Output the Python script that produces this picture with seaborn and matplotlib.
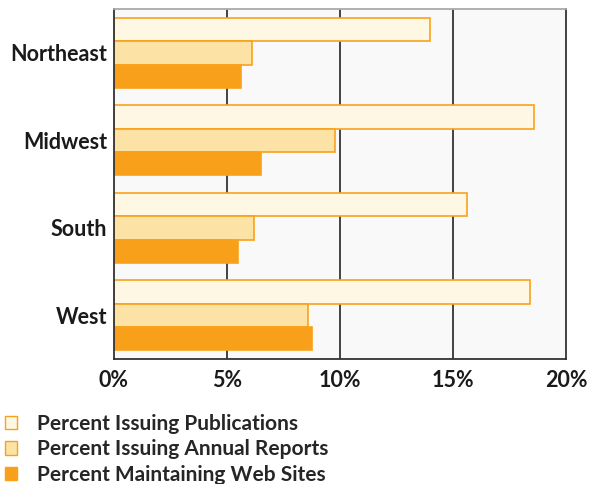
import seaborn as sns
import matplotlib.pyplot as plt
import pandas as pd

regions = ['Northeast', 'Midwest', 'South', 'West']
series = ['Percent Issuing Publications', 'Percent Issuing Annual Reports',
          'Percent Maintaining Web Sites']
publications = [14.0, 18.6, 15.6, 18.4]
annual_reports = [6.1, 9.8, 6.2, 8.6]
web_sites = [5.6, 6.5, 5.5, 8.75]
colors = ['#fef7e3', '#fde2a6', '#f8a01a']

df = pd.DataFrame({
    'region': regions * 3,
    'series': [series[0]] * 4 + [series[1]] * 4 + [series[2]] * 4,
    'value': publications + annual_reports + web_sites,
})

sns.set_style('white')
plt.rcParams['font.family'] = ['Lato', 'DejaVu Sans']

fig = plt.figure(figsize=(5.89, 4.84), dpi=100)
ax = fig.add_axes([0.1935, 0.258, 0.7675, 0.723])
ax.set_facecolor('#f9f9f9')

sns.barplot(data=df, y='region', x='value', hue='series', palette=colors,
            orient='h', width=0.8, edgecolor='#f8a21c', linewidth=1.2,
            saturation=1, ax=ax, legend=False)

ax.set_xlim(0, 20)
ax.set_ylim(3.5, -0.5)
ax.set_xticks([0, 5, 10, 15, 20])
ax.set_xticklabels(['0%', '5%', '10%', '15%', '20%'])
ax.set_xlabel('')
ax.set_ylabel('')
for x in [5, 10, 15]:
    ax.axvline(x, color='#111111', linewidth=1.1, zorder=0)
ax.tick_params(axis='x', length=0, pad=8, labelsize=15.5)
ax.tick_params(axis='y', length=0, pad=5, labelsize=15.5)
for lab in ax.get_xticklabels() + ax.get_yticklabels():
    lab.set_fontweight('bold')
    lab.set_color('#1a1a1a')

for side in ['left', 'bottom', 'right']:
    ax.spines[side].set_color('#333333')
    ax.spines[side].set_linewidth(1.3)
ax.spines['top'].set_color('#aaaaaa')
ax.spines['top'].set_linewidth(1.3)

handles = [plt.Rectangle((0, 0), 1, 1, facecolor=c, edgecolor='#f8a21c', linewidth=1)
           for c in colors]
fig.legend(handles, series, loc='upper left', bbox_to_anchor=(0.008, 0.145),
           frameon=False, borderpad=0, borderaxespad=0,
           handlelength=0.6, handleheight=0.6, handletextpad=0.95,
           labelspacing=0.26, prop={'size': 15, 'weight': 'bold'})

fig.savefig('out.png', dpi=100)
